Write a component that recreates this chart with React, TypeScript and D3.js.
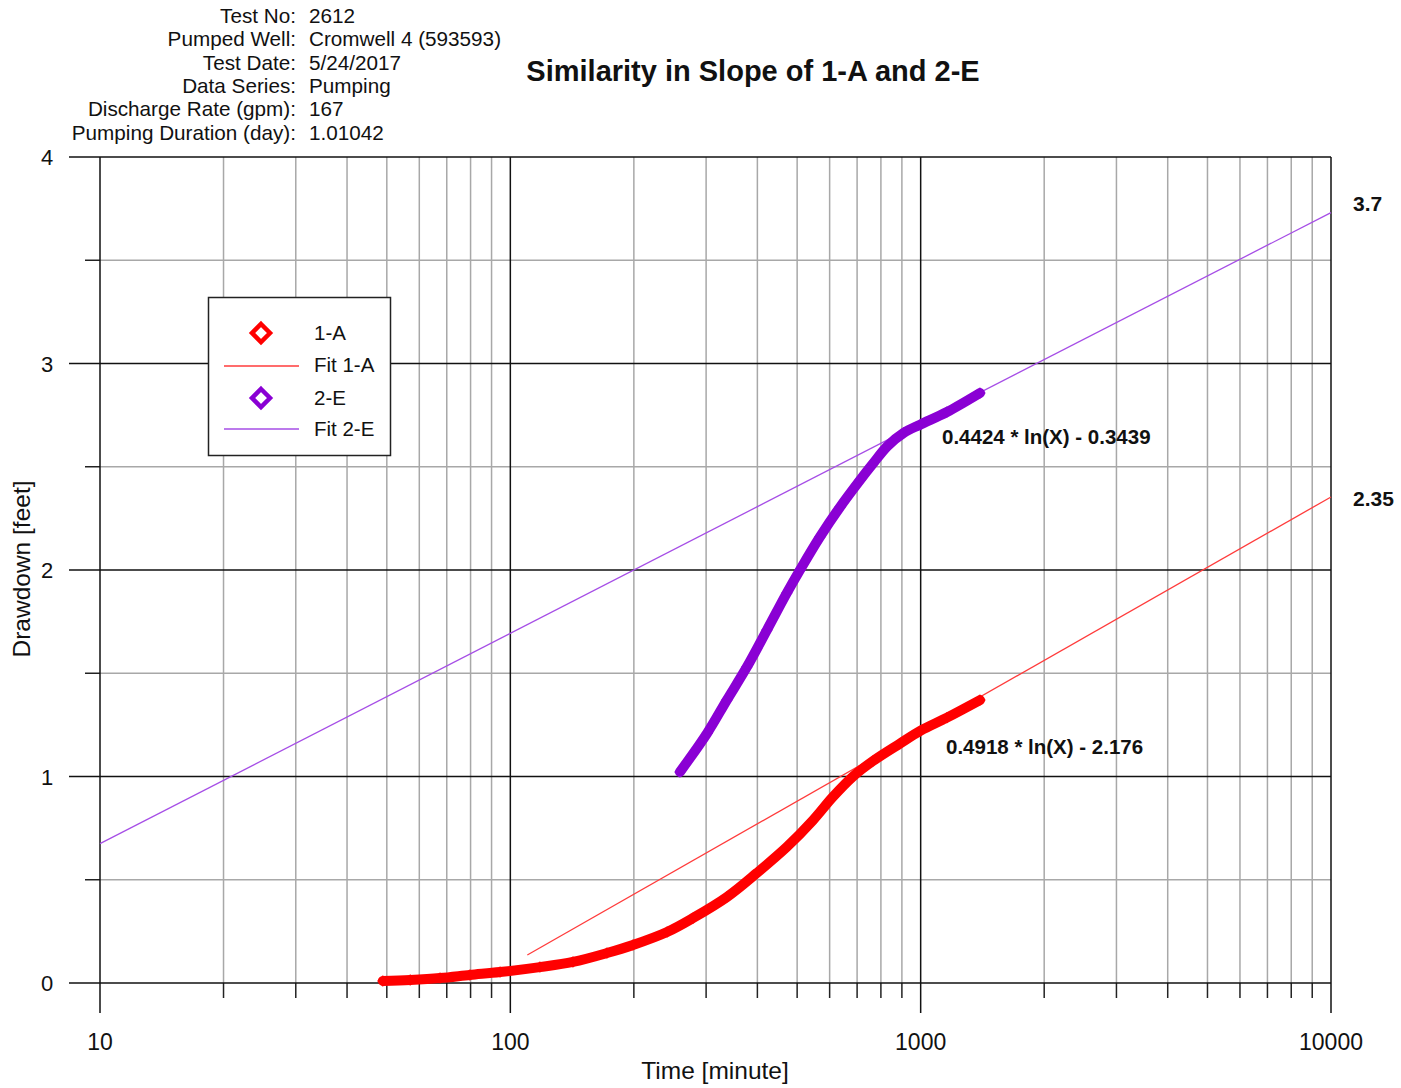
import React from "react";
import * as d3 from "d3";

// Observation well 1-A: elapsed time (minutes) and drawdown (feet)
const timeA = [48.9, 57.0, 67.4, 79.7, 94.4, 118.1, 142.1, 172, 199, 241, 279, 337, 399, 472, 547, 611, 684, 765, 891, 1000, 1159, 1395];
const drawA = [0.010, 0.015, 0.024, 0.039, 0.053, 0.077, 0.102, 0.145, 0.184, 0.247, 0.315, 0.416, 0.533, 0.659, 0.789, 0.901, 1.000, 1.075, 1.160, 1.222, 1.285, 1.370];

// Observation well 2-E
const timeE = [259, 302, 337, 377, 422, 472, 508, 568, 636, 712, 765, 830, 910, 1000, 1159, 1395];
const drawE = [1.022, 1.211, 1.370, 1.530, 1.709, 1.889, 2.000, 2.160, 2.305, 2.436, 2.515, 2.600, 2.665, 2.705, 2.765, 2.857];

// Log-linear fits: drawdown = slope * ln(t) + intercept
const fitA = { slope: 0.4918, intercept: -2.176, from: 110, to: 10000, label: "0.4918 * ln(X) - 2.176", endLabel: "2.35" };
const fitE = { slope: 0.4424, intercept: -0.3439, from: 10, to: 10000, label: "0.4424 * ln(X) - 0.3439", endLabel: "3.7" };

const headerKeys = ["Test No:", "Pumped Well:", "Test Date:", "Data Series:", "Discharge Rate (gpm):", "Pumping Duration (day):"];
const headerValues = ["2612", "Cromwell 4 (593593)", "5/24/2017", "Pumping", "167", "1.01042"];

const xMajor = [10, 100, 1000, 10000];
const yMajor = [0, 1, 2, 3, 4];
const yMinor = [0.5, 1.5, 2.5, 3.5];

const RED = "#ff0000";
const PURPLE = "#8a00d4";
const FIT_RED = "#ff3b3b";
const FIT_PURPLE = "#a64ee6";
const FONT = "Liberation Sans, Arial, sans-serif";

export default function App() {
  const W = 1401;
  const H = 1088;
  const left = 100, right = 1331, top = 157, bottom = 983;

  const x = d3.scaleLog().domain([10, 10000]).range([left, right]);
  const y = d3.scaleLinear().domain([0, 4]).range([bottom, top]);

  const xMinor: number[] = [];
  for (const dec of [10, 100, 1000]) {
    for (let k = 2; k <= 9; k++) xMinor.push(dec * k);
  }

  const fitPath = (f: typeof fitA) => {
    const pts: [number, number][] = [f.from, f.to].map((t) => [x(t), y(f.slope * Math.log(t) + f.intercept)]);
    return d3.line()(pts) as string;
  };

  const seriesLine = d3
    .line<[number, number]>()
    .x((d) => x(d[0]))
    .y((d) => y(d[1]))
    .curve(d3.curveCatmullRom.alpha(0.5));

  const ptsA: [number, number][] = timeA.map((t, i) => [t, drawA[i]]);
  const ptsE: [number, number][] = timeE.map((t, i) => [t, drawE[i]]);

  const diamond = (cx: number, cy: number, r: number) =>
    `M${cx},${cy - r}L${cx + r},${cy}L${cx},${cy + r}L${cx - r},${cy}Z`;

  const endA = fitA.slope * Math.log(fitA.to) + fitA.intercept;
  const endE = fitE.slope * Math.log(fitE.to) + fitE.intercept;

  return (
    <svg
      width={W}
      height={H}
      style={{ position: "absolute", left: 0, top: 0, background: "#fff" }}
      fontFamily={FONT}
    >
      {/* header block */}
      {headerKeys.map((k, i) => (
        <g key={k}>
          <text x={296} y={23 + i * 23.3} fontSize={20.7} textAnchor="end" fill="#111">
            {k}
          </text>
          <text x={309} y={23 + i * 23.3} fontSize={20.7} fill="#111">
            {headerValues[i]}
          </text>
        </g>
      ))}
      <text x={753} y={81} fontSize={29} fontWeight="bold" textAnchor="middle" fill="#111">
        Similarity in Slope of 1-A and 2-E
      </text>

      {/* minor grid */}
      {xMinor.map((v) => (
        <g key={"xm" + v}>
          <line x1={x(v)} x2={x(v)} y1={top} y2={bottom} stroke="#a8a8a8" strokeWidth={1.5} />
          <line x1={x(v)} x2={x(v)} y1={bottom} y2={998} stroke="#222" strokeWidth={1.5} />
        </g>
      ))}
      {yMinor.map((v) => (
        <g key={"ym" + v}>
          <line x1={left} x2={right} y1={y(v)} y2={y(v)} stroke="#a8a8a8" strokeWidth={1.5} />
          <line x1={85} x2={left} y1={y(v)} y2={y(v)} stroke="#222" strokeWidth={1.5} />
        </g>
      ))}
      {/* major grid */}
      {xMajor.map((v) => (
        <line key={"xM" + v} x1={x(v)} x2={x(v)} y1={top} y2={1013} stroke="#111" strokeWidth={1.5} />
      ))}
      {yMajor.map((v) => (
        <line key={"yM" + v} x1={69} x2={right} y1={y(v)} y2={y(v)} stroke="#111" strokeWidth={1.5} />
      ))}

      {/* tick labels */}
      {xMajor.map((v) => (
        <text key={"xl" + v} x={x(v)} y={1050} fontSize={23} textAnchor="middle" fill="#111">
          {v}
        </text>
      ))}
      {yMajor.map((v) => (
        <text key={"yl" + v} x={47} y={y(v) + 8} fontSize={22} textAnchor="middle" fill="#111">
          {v}
        </text>
      ))}
      <text x={715} y={1079} fontSize={24.5} textAnchor="middle" fill="#111">
        Time [minute]
      </text>
      <text
        transform={`translate(30,569) rotate(-90)`}
        fontSize={24.5}
        textAnchor="middle"
        fill="#111"
      >
        Drawdown [feet]
      </text>

      {/* fit lines */}
      <path d={fitPath(fitE)} stroke={FIT_PURPLE} strokeWidth={1.3} fill="none" />
      <path d={fitPath(fitA)} stroke={FIT_RED} strokeWidth={1.3} fill="none" />

      {/* measured drawdown */}
      <path d={seriesLine(ptsA) as string} stroke={RED} strokeWidth={10} fill="none" strokeLinecap="round" strokeLinejoin="round" />
      {ptsA.map((p, i) => (
        <path key={"a" + i} d={diamond(x(p[0]), y(p[1]), 4)} fill="none" stroke={RED} strokeWidth={2.5} />
      ))}
      <path d={seriesLine(ptsE) as string} stroke={PURPLE} strokeWidth={10} fill="none" strokeLinecap="round" strokeLinejoin="round" />
      {ptsE.map((p, i) => (
        <path key={"e" + i} d={diamond(x(p[0]), y(p[1]), 4)} fill="none" stroke={PURPLE} strokeWidth={2.5} />
      ))}

      {/* fit equations */}
      <text x={942} y={444} fontSize={20.5} fontWeight="bold" fill="#111">
        {fitE.label}
      </text>
      <text x={946} y={754} fontSize={20.5} fontWeight="bold" fill="#111">
        {fitA.label}
      </text>
      <text x={1353} y={y(endE) - 2} fontSize={21} fontWeight="bold" fill="#111">
        {fitE.endLabel}
      </text>
      <text x={1353} y={y(endA) + 9} fontSize={21} fontWeight="bold" fill="#111">
        {fitA.endLabel}
      </text>

      {/* legend */}
      <rect x={208.5} y={297.5} width={182} height={158} fill="#fff" stroke="#222" strokeWidth={1.5} />
      <path d={diamond(261, 333, 9)} fill="none" stroke={RED} strokeWidth={4.5} />
      <text x={314} y={340} fontSize={20.5} fill="#111">1-A</text>
      <line x1={224} x2={299} y1={366} y2={366} stroke={FIT_RED} strokeWidth={1.5} />
      <text x={314} y={372} fontSize={20.5} fill="#111">Fit 1-A</text>
      <path d={diamond(261, 398, 9)} fill="none" stroke={PURPLE} strokeWidth={4.5} />
      <text x={314} y={405} fontSize={20.5} fill="#111">2-E</text>
      <line x1={224} x2={299} y1={429} y2={429} stroke={FIT_PURPLE} strokeWidth={1.5} />
      <text x={314} y={436} fontSize={20.5} fill="#111">Fit 2-E</text>
    </svg>
  );
}
